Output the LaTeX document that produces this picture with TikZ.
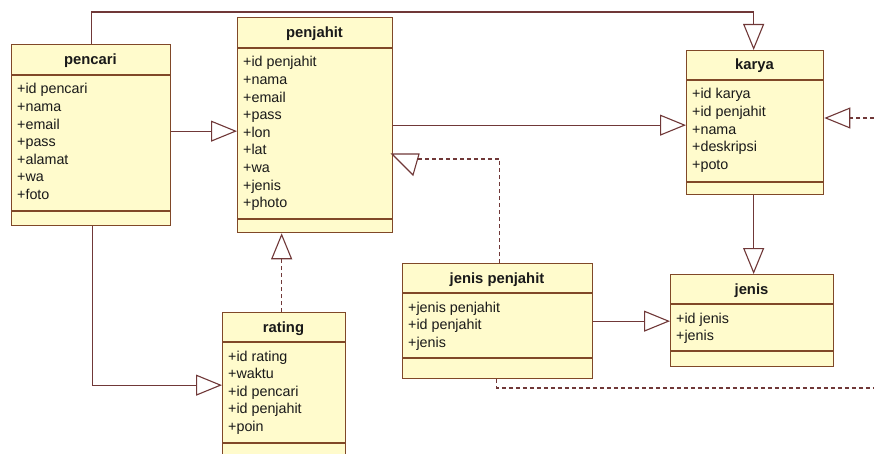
\documentclass[tikz,border=0pt]{standalone}
\usepackage{fontspec}
\newfontfamily\umlfont{Liberation Sans}
\usetikzlibrary{arrows.meta}
\definecolor{clsfill}{RGB}{255,251,204}
\definecolor{clsdraw}{RGB}{128,72,40}
\definecolor{lnc}{RGB}{112,56,56}
\tikzset{
  clsbox/.style={draw=clsdraw, fill=clsfill, line width=1.3pt, inner sep=0pt, rectangle},
  clsline/.style={draw=clsdraw, line width=1.3pt},
  clstitle/.style={font=\umlfont\bfseries\fontsize{14.8}{17}\selectfont, inner sep=0pt, text=black!90},
  clsattr/.style={font=\umlfont\fontsize{14.3}{17.6}\selectfont, inner sep=0pt, text=black!90},
  genline/.style={draw=lnc, line width=1.1pt, -{Triangle[open, length=26pt, width=21pt]}},
  realline/.style={genline, dash pattern=on 4pt off 3pt},
  plainreal/.style={draw=lnc, line width=1.1pt, dash pattern=on 4pt off 3pt},
}
% name, x1, y1, x2, y2, yhead, yops, title, attributes
\newcommand\umlcls[9]{%
  \node[clsbox, anchor=north west, minimum width={(#4-#2)*1pt}, minimum height={(#5-#3)*1pt}] (#1) at (#2,#3) {};
  \draw[clsline] (#2,#6) -- (#4,#6);
  \draw[clsline] (#2,#7) -- (#4,#7);
  \node[clstitle, anchor=base] (#1-t) at ({(#2+#4)/2},{(#3+#6)/2+5}) {#8};
  \foreach \a [count=\i] in {#9}
    \node[clsattr, anchor=base west] (#1-a\i) at ({#2+6},{#6+19+(\i-1)*17.6}) {\a};
}
\begin{document}
\begin{tikzpicture}[x=1pt,y=-1pt]
\path[use as bounding box, clip] (0,0) rectangle (874,454);
\fill[white] (0,0) rectangle (874,454);

\umlcls{pencari}{11}{44}{170}{225}{75}{211}{pencari}{+id pencari,+nama,+email,+pass,+alamat,+wa,+foto}
\umlcls{penjahit}{237}{17}{392}{232}{48}{219}{penjahit}{+id penjahit,+nama,+email,+pass,+lon,+lat,+wa,+jenis,+photo}
\umlcls{karya}{686}{50}{823}{194}{80}{182}{karya}{+id karya,+id penjahit,+nama,+deskripsi,+poto}
\umlcls{jp}{402}{263}{592}{378}{293}{358}{jenis penjahit}{+jenis penjahit,+id penjahit,+jenis}
\umlcls{rating}{222}{312}{345}{457}{342}{443}{rating}{+id rating,+waktu,+id pencari,+id penjahit,+poin}
\umlcls{jenis}{670}{274}{833}{366}{304}{351}{jenis}{+id jenis,+jenis}

\coordinate (ytop) at (0,12);
\coordinate (jpbend) at (418,159);
\coordinate (tri1) at (392,154);
\coordinate (tri2) at (419,154);
\coordinate (tri3) at (413,175);
\coordinate (rtedge) at (874,388);
\coordinate (rtedge2) at (874,118);

% pencari -> karya (over the top)
\draw[genline] (pencari.north) -- (pencari.north |- ytop) -| ([xshift=-1.5pt]karya.north);
% pencari -> penjahit
\draw[genline] ([yshift=4pt]pencari.east) coordinate (pp) -- (pp -| penjahit.west);
% penjahit -> karya
\draw[genline] (penjahit.east) -- (penjahit.east -| karya.west);
% pencari -> rating
\draw[genline] ([xshift=1.5pt]pencari.south) |- (rating.west);
% rating -> penjahit (dashed)
\draw[realline] ([xshift=-2.5pt]rating.north) coordinate (rn) -- (rn |- penjahit.south);
% jenis penjahit -> penjahit (dashed)
\draw[plainreal] ([xshift=2pt]jp.north) |- (jpbend);
\draw[draw=lnc, line width=1.1pt, fill=white, line join=miter] (tri1) -- (tri2) -- (tri3) -- cycle;
% karya -> jenis
\draw[genline] ([xshift=-1.5pt]karya.south) coordinate (ks) -- (ks |- jenis.north);
% jenis penjahit -> jenis
\draw[genline] (jp.east) -- (jp.east -| jenis.west);
% jenis penjahit -> (off picture) -> karya (dashed)
\draw[plainreal] ([xshift=-1pt]jp.south) |- (rtedge);
\draw[realline] (rtedge2) -- (rtedge2 -| karya.east);
\end{tikzpicture}
\end{document}
